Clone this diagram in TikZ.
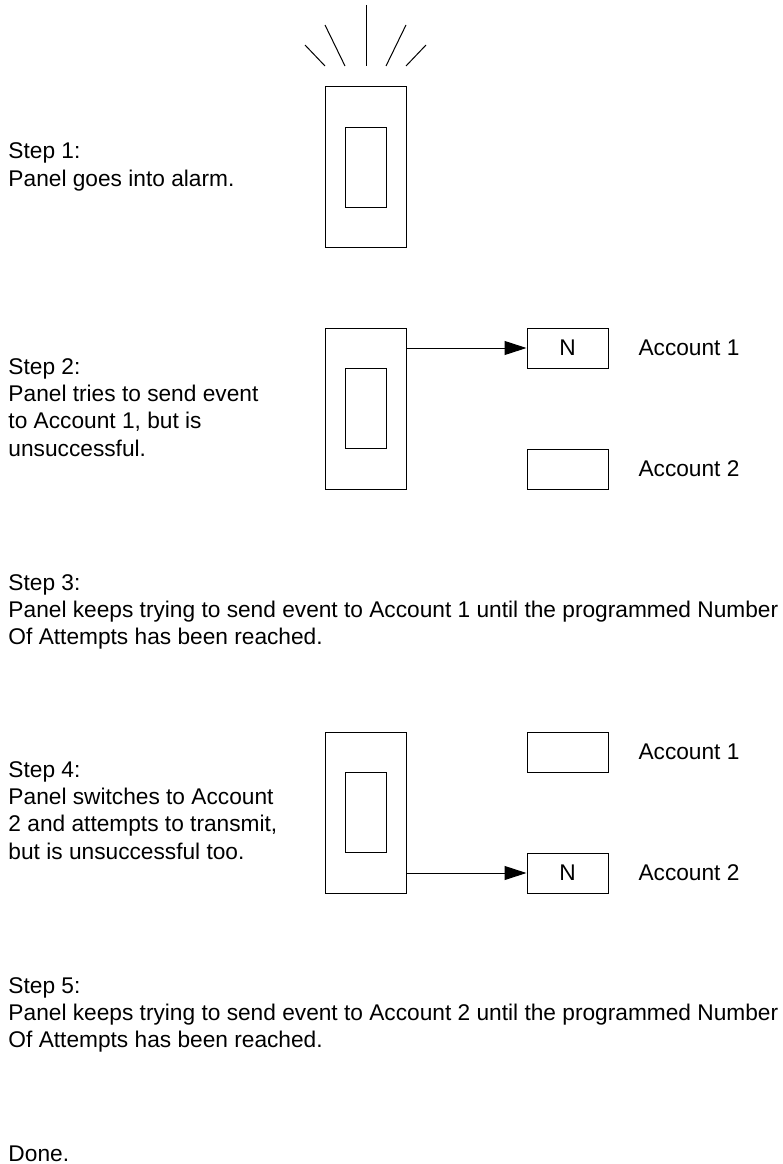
\documentclass[tikz,border=0pt]{standalone}
\usepackage{fontspec}
\setmainfont{Liberation Sans}
\usetikzlibrary{arrows.meta}
\tikzset{
  every path/.style={line width=1pt},
  panelbox/.style={draw, line width=1pt, rectangle, inner sep=0pt, minimum width=81pt, minimum height=161pt},
  screenbox/.style={draw, line width=1pt, rectangle, inner sep=0pt, minimum width=41pt, minimum height=80pt},
  acctbox/.style={draw, line width=1pt, rectangle, inner sep=0pt, minimum width=81pt, minimum height=40pt, font=\fontsize{22.7}{27.2}\selectfont},
  steptext/.style={anchor=north west, inner sep=0pt, align=left, font=\fontsize{22.7}{27.2}\selectfont},
  acctlabel/.style={anchor=base west, inner sep=0pt, font=\fontsize{22.7}{27.2}\selectfont},
  sendarrow/.style={-{Triangle[length=22pt,width=14pt]}, line width=1pt}
}
\begin{document}
\begin{tikzpicture}[x=1pt, y=-1pt]
\useasboundingbox (0,0) rectangle (783,1164);

% Step 1
\coordinate (r1a) at (366,5);   \coordinate (r1b) at (366,66);
\coordinate (r2a) at (325,25);  \coordinate (r2b) at (345,66);
\coordinate (r3a) at (305,45);  \coordinate (r3b) at (325,66);
\coordinate (r4a) at (406,25);  \coordinate (r4b) at (386,66);
\coordinate (r5a) at (426,45);  \coordinate (r5b) at (406,66);
\draw (r1a) -- (r1b);
\draw (r2a) -- (r2b);
\draw (r3a) -- (r3b);
\draw (r4a) -- (r4b);
\draw (r5a) -- (r5b);
\node[panelbox] (p1) at (365.5,166.5) {};
\node[screenbox] (s1) at (365.5,167) {};
\node[steptext] (t1) at (8,142.5) {Step 1:\\Panel goes into alarm.};

% Step 2
\node[panelbox] (p2) at (365.5,409) {};
\node[screenbox] (s2) at (365.5,408.5) {};
\node[acctbox] (n2) at (567.5,348) {N};
\node[acctbox] (b2) at (567.5,469.5) {};
\draw[sendarrow] (p2.east |- n2.west) -- (n2.west);
\node[acctlabel] (a21) at (638,355) {Account 1};
\node[acctlabel] (a22) at (638,476.7) {Account 2};
\node[steptext] (t2) at (8,358.2) {Step 2:\\Panel tries to send event\\to Account 1, but is\\unsuccessful.};

% Step 3
\node[steptext] (t3) at (8,574.2) {Step 3:\\Panel keeps trying to send event to Account 1 until the programmed Number\\Of Attempts has been reached.};

% Step 4
\node[panelbox] (p4) at (365.5,812.5) {};
\node[screenbox] (s4) at (365.5,812.5) {};
\node[acctbox] (b4) at (567.5,752) {};
\node[acctbox] (n4) at (567.5,873) {N};
\draw[sendarrow] (p4.east |- n4.west) -- (n4.west);
\node[acctlabel] (a41) at (638,759) {Account 1};
\node[acctlabel] (a42) at (638,880) {Account 2};
\node[steptext] (t4) at (8,761.2) {Step 4:\\Panel switches to Account\\2 and attempts to transmit,\\but is unsuccessful too.};

% Step 5
\node[steptext] (t5) at (8,977.2) {Step 5:\\Panel keeps trying to send event to Account 2 until the programmed Number\\Of Attempts has been reached.};

% Done
\node[steptext] (t6) at (8,1145.2) {Done.};
\end{tikzpicture}
\end{document}
